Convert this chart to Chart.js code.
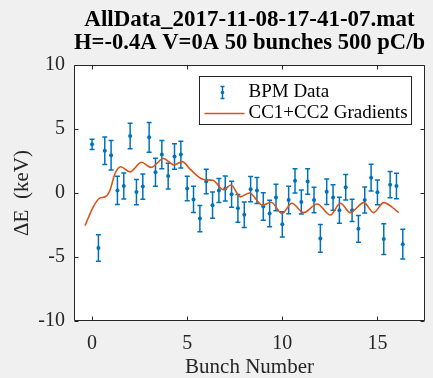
<!DOCTYPE html>
<html>
<head>
<meta charset="utf-8">
<script src="https://cdn.jsdelivr.net/npm/chart.js@4.4.0/dist/chart.umd.min.js"></script>
<style>
html, body { margin: 0; padding: 0; background: #f0f0f0; }
#warm { position: absolute; left: -1000px; top: 0; font-family: 'Liberation Serif', 'DejaVu Serif', serif; }
</style>
</head>
<body>
<canvas id="chart" width="433" height="378"></canvas>
<div id="warm">ΔE <b>bold</b></div>
<script>
// bunch positions (x) and measured energy deviation (keV)
var bunch = [0, 0.333, 0.667, 1, 1.333, 1.667, 2, 2.333, 2.667, 3,
             3.333, 3.667, 4, 4.333, 4.667, 5, 5.333, 5.667, 6, 6.333,
             6.667, 7, 7.333, 7.667, 8, 8.333, 8.667, 9, 9.333, 9.667,
             10, 10.333, 10.667, 11, 11.333, 11.667, 12, 12.333, 12.667, 13,
             13.333, 13.667, 14, 14.333, 14.667, 15, 15.333, 15.667, 16, 16.333];
var dE = [3.8, -4.3, 3.3, 2.95, 0.2, 0.55, 4.45, 0.07, 0.5, 4.35,
          1.62, 3.0, 1.32, 2.85, 3.0, 0.35, -0.5, -2.0, 0.9, -0.95,
          0.2, 0.35, -0.1, -1.2, -1.7, 0.3, 0.2, -1.05, -1.6, -0.35,
          -2.45, -0.55, 0.95, -0.7, 0.9, -0.55, -3.55, 0.1, -0.35, -1.35,
          0.45, -1.35, -2.8, -0.55, 1.2, 0.05, -3.6, 0.65, 0.55, -4.0];
var dEerr = [0.4, 1.03, 1.08, 1.15, 1.1, 1.02, 0.99, 0.98, 0.98, 1.16,
             1.1, 1.1, 1.0, 1.0, 1.04, 0.95, 1.02, 1.02, 0.95, 1.03,
             0.94, 0.98, 1.02, 1.09, 1.0, 0.98, 1.02, 1.07, 1.04, 1.04,
             0.98, 1.07, 0.95, 0.94, 0.99, 0.99, 1.08, 0.99, 1.0, 1.02,
             1.0, 0.87, 1.04, 1.02, 1.04, 0.96, 1.2, 1.02, 0.99, 1.16];

// gradient model curve
var fitX = [-0.37, 0.07, 0.4, 0.7, 0.95, 1.2, 1.5, 2.0, 2.6, 3.1,
            3.75, 4.3, 4.75, 5.16, 5.86, 6.35, 6.9, 7.3, 7.79, 8.27,
            8.95, 9.42, 9.98, 10.5, 11.12, 11.83, 12.53, 13.05, 13.58, 14.28,
            14.8, 15.33, 16.12];
var fitY = [-2.55, -1.07, -0.4, -0.3, 0.25, 1.5, 2.05, 1.65, 2.4, 2.0,
            2.7, 2.2, 2.45, 1.85, 1.05, 1.0, 0.25, 0.62, -0.3, 0.0,
            -0.95, -0.72, -1.6, -0.8, -1.53, -0.86, -1.72, -0.8, -1.53, -0.75,
            -1.53, -0.75, -1.53];

var xTicks = [0, 5, 10, 15];
var yTicks = [-10, -5, 0, 5, 10];
var seriesNames = ['BPM Data', 'CC1+CC2 Gradients'];
var titleLines = ['AllData_2017-11-08-17-41-07.mat', 'H=-0.4A V=0A 50 bunches 500 pC/b'];

var serif = "'Liberation Serif', 'DejaVu Serif', 'Times New Roman', serif";
var blue = '#0072BD';
var orange = '#D95319';
var axisColor = '#262626';

var bpmPoints = bunch.map(function (b, i) { return { x: b, y: dE[i] }; });
var fitPoints = fitX.map(function (b, i) { return { x: b, y: fitY[i] }; });

// white axes background
var axesBack = {
  id: 'axesBack',
  beforeDraw: function (chart) {
    var ctx = chart.ctx, a = chart.chartArea;
    ctx.save();
    ctx.fillStyle = '#f0f0f0';
    ctx.fillRect(0, 0, chart.width, chart.height);
    ctx.fillStyle = '#ffffff';
    ctx.fillRect(a.left, a.top, a.right - a.left, a.bottom - a.top);
    ctx.restore();
  }
};

// vertical error bars, drawn just before the BPM points
var errorBars = {
  id: 'errorBars',
  beforeDatasetDraw: function (chart, args) {
    if (args.index !== 1) return;
    var ctx = chart.ctx, xs = chart.scales.x, ys = chart.scales.y;
    ctx.save();
    ctx.strokeStyle = blue;
    ctx.lineWidth = 1.5;
    for (var i = 0; i < bunch.length; i++) {
      var px = xs.getPixelForValue(bunch[i]);
      var hi = ys.getPixelForValue(dE[i] + dEerr[i]);
      var lo = ys.getPixelForValue(dE[i] - dEerr[i]);
      ctx.beginPath();
      ctx.moveTo(px, hi); ctx.lineTo(px, lo);
      ctx.moveTo(px - 2.5, hi); ctx.lineTo(px + 2.5, hi);
      ctx.moveTo(px - 2.5, lo); ctx.lineTo(px + 2.5, lo);
      ctx.stroke();
    }
    ctx.restore();
  }
};

// matlab style box with inward ticks
var axesBox = {
  id: 'axesBox',
  afterDatasetsDraw: function (chart) {
    var ctx = chart.ctx, a = chart.chartArea, xs = chart.scales.x, ys = chart.scales.y;
    var L = Math.round(a.left) + 0.5, R = Math.round(a.right) - 0.5;
    var T = Math.round(a.top) + 0.5, B = Math.round(a.bottom) - 0.5;
    ctx.save();
    ctx.strokeStyle = axisColor;
    ctx.lineWidth = 1;
    ctx.beginPath();
    ctx.rect(L, T, R - L, B - T);
    xTicks.forEach(function (v) {
      var p = Math.round(xs.getPixelForValue(v)) + 0.5;
      ctx.moveTo(p, B); ctx.lineTo(p, B - 4);
      ctx.moveTo(p, T); ctx.lineTo(p, T + 4);
    });
    yTicks.forEach(function (v) {
      var p = Math.round(ys.getPixelForValue(v)) + 0.5;
      ctx.moveTo(L, p); ctx.lineTo(L + 4, p);
      ctx.moveTo(R, p); ctx.lineTo(R - 4, p);
    });
    ctx.stroke();
    ctx.restore();
  }
};

// boxed legend in the upper right of the axes
var boxLegend = {
  id: 'boxLegend',
  afterDraw: function (chart) {
    var ctx = chart.ctx, a = chart.chartArea;
    var bx = Math.round(a.right) - 226 + 0.5, by = Math.round(a.top) + 11 + 0.5;
    var bw = 212, bh = 48;
    ctx.save();
    ctx.fillStyle = '#ffffff';
    ctx.fillRect(bx, by, bw, bh);
    ctx.strokeStyle = axisColor;
    ctx.lineWidth = 1;
    ctx.strokeRect(bx, by, bw, bh);

    var ix = bx + 23, y1 = by + 16, y2 = by + 37;
    ctx.strokeStyle = blue;
    ctx.lineWidth = 1.5;
    ctx.beginPath();
    ctx.moveTo(ix, y1 - 6); ctx.lineTo(ix, y1 + 6);
    ctx.moveTo(ix - 2, y1 - 6); ctx.lineTo(ix + 2, y1 - 6);
    ctx.moveTo(ix - 2, y1 + 6); ctx.lineTo(ix + 2, y1 + 6);
    ctx.stroke();
    ctx.fillStyle = blue;
    ctx.beginPath();
    ctx.arc(ix, y1, 1.8, 0, Math.PI * 2);
    ctx.fill();

    ctx.strokeStyle = orange;
    ctx.lineWidth = 1.5;
    ctx.beginPath();
    ctx.moveTo(bx + 5, y2); ctx.lineTo(bx + 45, y2);
    ctx.stroke();

    ctx.fillStyle = '#000000';
    ctx.font = '19px ' + serif;
    ctx.textBaseline = 'middle';
    ctx.fillText(seriesNames[0], bx + 49, y1);
    ctx.fillText(seriesNames[1], bx + 49, y2);
    ctx.restore();
  }
};

function draw() {
  new Chart(document.getElementById('chart'), {
    type: 'scatter',
    data: {
      datasets: [
        {
          label: seriesNames[1],
          data: fitPoints,
          showLine: true,
          borderColor: orange,
          borderWidth: 1.6,
          pointRadius: 0,
          cubicInterpolationMode: 'monotone',
          fill: false
        },
        {
          label: seriesNames[0],
          data: bpmPoints,
          backgroundColor: blue,
          borderColor: blue,
          pointRadius: 2,
          borderWidth: 0
        }
      ]
    },
    options: {
      responsive: false,
      animation: false,
      devicePixelRatio: 1,
      layout: { padding: { left: 0, right: 8, top: 0, bottom: 0 } },
      plugins: {
        legend: { display: false },
        tooltip: { enabled: false },
        title: {
          display: true,
          text: titleLines,
          fullSize: false,
          color: '#000000',
          font: { family: serif, size: 23, weight: 'bold', lineHeight: 1.0 },
          padding: { top: 9, bottom: 10 }
        }
      },
      scales: {
        x: {
          type: 'linear',
          min: -0.95,
          max: 17.5,
          afterBuildTicks: function (s) { s.ticks = xTicks.map(function (v) { return { value: v }; }); },
          afterFit: function (s) { s.height = 57; },
          grid: { display: false },
          border: { display: false },
          ticks: { color: axisColor, padding: 3, maxRotation: 0, autoSkip: false,
                   font: { family: serif, size: 20 } },
          title: { display: true, text: 'Bunch Number', color: axisColor,
                   font: { family: serif, size: 21, lineHeight: 1.0 },
                   padding: { top: 0, bottom: 0 } }
        },
        y: {
          type: 'linear',
          min: -10,
          max: 10,
          afterBuildTicks: function (s) { s.ticks = yTicks.map(function (v) { return { value: v }; }); },
          afterFit: function (s) { s.width = 74; },
          grid: { display: false },
          border: { display: false },
          ticks: { color: axisColor, padding: 1, autoSkip: false,
                   font: { family: serif, size: 20 } },
          title: { display: true, text: 'ΔE  (keV)', color: axisColor,
                   font: { family: serif, size: 21, lineHeight: 1.2 },
                   padding: { top: 10, bottom: 0 } }
        }
      }
    },
    plugins: [axesBack, errorBars, axesBox, boxLegend]
  });
}

if (document.fonts && document.fonts.ready) {
  document.fonts.ready.then(draw);
} else {
  draw();
}
</script>
</body>
</html>
